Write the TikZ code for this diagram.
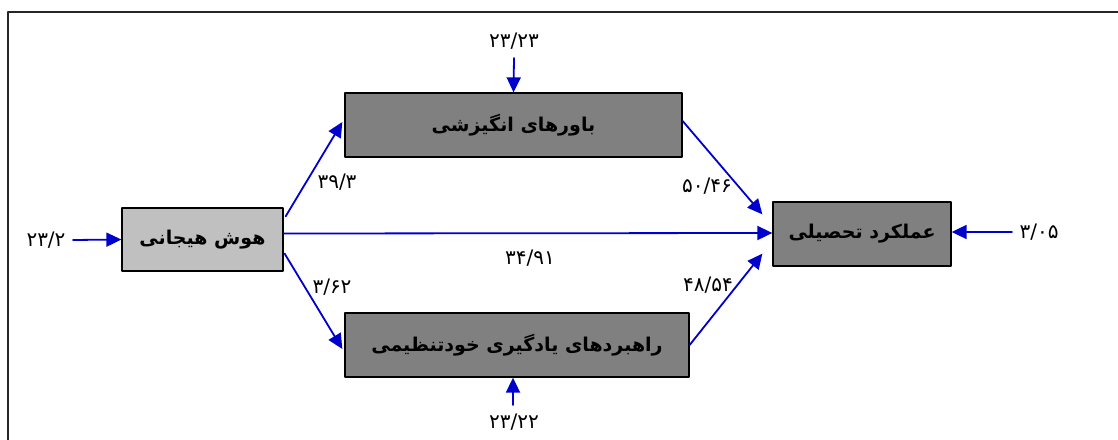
\documentclass[tikz,border=0pt]{standalone}
\usepackage{fontspec}
\usetikzlibrary{arrows.meta}
\TeXXeTstate=1
\newfontfamily\farsifont[Script=Arabic]{DejaVu Sans}

\begin{document}
\begin{tikzpicture}[x=1pt, y=-1pt, line cap=round, line join=round, >={Triangle[length=15pt,width=14pt]},
  varbox/.style={draw=black, line width=1.3pt, fill=gray!100!white, inner sep=0pt, font=\farsifont\bfseries\fontsize{19}{22}\selectfont},
  pathline/.style={->, draw={rgb,255:red,0;green,0;blue,204}, line width=1.8pt},
  coef/.style={font=\farsifont\fontsize{20}{22}\selectfont}]

\useasboundingbox (0,0) rectangle (1118,439);
\draw[line width=1.8pt, black!85] (8,460) -- (8,12) -- (1130,12);

%---------------------------------------------------------------------------------------------------
\node[varbox, fill={rgb,255:red,192;green,192;blue,192}, minimum width=161pt, minimum height=63pt] (hoosh) at (202.5,239.5) {\beginR هوش هیجانی\endR};
\node[varbox, fill={rgb,255:red,128;green,128;blue,128}, minimum width=337pt, minimum height=64pt] (bavar) at (513.5,125) {\beginR باورهای انگیزشی\endR};
\node[varbox, fill={rgb,255:red,128;green,128;blue,128}, minimum width=344pt, minimum height=64pt] (rahbord) at (517,345) {\beginR راهبردهای یادگیری خودتنظیمی\endR};
\node[varbox, fill={rgb,255:red,128;green,128;blue,128}, minimum width=178pt, minimum height=64pt] (amalkard) at (862,234) {\beginR عملکرد تحصیلی\endR};

%---------------------------------------------------------------------------------------------------
\node[coef] (eHoosh) at (46,240) {۲۳/۲};
\node[coef] (eBavar) at (514,41) {۲۳/۲۳};
\node[coef] (eRahbord) at (514,422) {۲۳/۲۲};
\node[coef] (eAmal) at (1039,232) {۳/۰۵};

\coordinate (cHoosh) at (73,240);
\coordinate (cBavar) at (514,58);
\coordinate (cRahbord) at (513,405);
\coordinate (cAmal) at (1012,232);

\draw[pathline] (cHoosh) -- (hoosh.west);
\draw[pathline] (cBavar) -- (bavar.north);
\draw[pathline] (cRahbord) -- ([xshift=-4pt]rahbord.south);
\draw[pathline] (cAmal) -- ([yshift=2pt]amalkard.east);

%---------------------------------------------------------------------------------------------------
\draw[pathline] ([xshift=2pt,yshift=-9pt]hoosh.north east) -- ([xshift=-2pt,yshift=3pt]bavar.west);
\draw[pathline] ([xshift=1pt,yshift=18pt]hoosh.south east) -- ([xshift=-2pt,yshift=-4pt]rahbord.west);
\draw[pathline] ([yshift=6pt]hoosh.east) -- ([yshift=1pt]amalkard.west);
\draw[pathline] ([yshift=4pt]bavar.east) -- ([xshift=-10pt,yshift=-13pt]amalkard.north west);
\draw[pathline] (rahbord.east) -- ([xshift=-10pt,yshift=13pt]amalkard.south west);

\node[coef] (pHB) at (337,182) {۳۹/۳};
\node[coef] (pHR) at (332,287) {۳/۶۲};
\node[coef] (pHA) at (530,258) {۳۴/۹۱};
\node[coef] (pBA) at (707,186) {۵۰/۴۶};
\node[coef] (pRA) at (708,285) {۴۸/۵۴};

\end{tikzpicture}
\end{document}
